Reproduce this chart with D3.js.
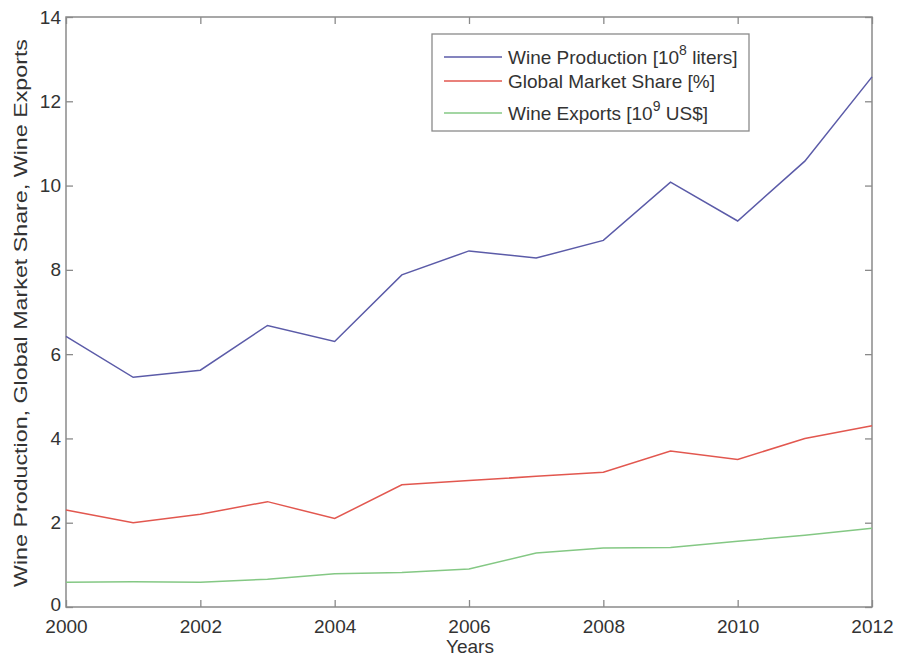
<!DOCTYPE html>
<html>
<head>
<meta charset="utf-8">
<script src="https://cdn.jsdelivr.net/npm/d3@7"></script>
<style>
  body { margin: 0; background: #fff; }
  svg { display: block; font-family: "Liberation Sans", Arial, sans-serif; }
</style>
</head>
<body>
<svg id="chart" width="897" height="656"></svg>
<script>
// Yearly series
const years = [2000, 2001, 2002, 2003, 2004, 2005, 2006, 2007, 2008, 2009, 2010, 2011, 2012];
const wineProduction = [6.42, 5.45, 5.62, 6.68, 6.3, 7.88, 8.45, 8.28, 8.7, 10.08, 9.16, 10.58, 12.58];
const marketShare = [2.3, 2.0, 2.2, 2.5, 2.1, 2.9, 3.0, 3.1, 3.2, 3.7, 3.5, 4.0, 4.3];
const wineExports = [0.59, 0.6, 0.59, 0.66, 0.79, 0.82, 0.9, 1.28, 1.4, 1.41, 1.56, 1.7, 1.87];

const xTicks = [2000, 2002, 2004, 2006, 2008, 2010, 2012];
const yTicks = [0, 2, 4, 6, 8, 10, 12, 14];

const seriesColors = ["#5b5ba8", "#e2574f", "#84c884"];

const svg = d3.select("#chart");
const plotLeft = 66, plotRight = 872, plotTop = 17, plotBottom = 607;
const axisColor = "#8a8a8a";
const textColor = "#333";

const x = d3.scaleLinear().domain([2000, 2012]).range([plotLeft, plotRight]);
const y = d3.scaleLinear().domain([0, 14]).range([plotBottom, plotTop]);

// Frame
svg.append("rect")
  .attr("x", plotLeft).attr("y", plotTop)
  .attr("width", plotRight - plotLeft).attr("height", plotBottom - plotTop)
  .attr("fill", "none").attr("stroke", axisColor).attr("stroke-width", 1.5);

// Axes with inward ticks on all four sides
const tickLen = 7;
const xAxis = svg.append("g").attr("transform", `translate(0,${plotBottom})`)
  .call(d3.axisBottom(x).tickValues(xTicks).tickFormat(d3.format("d")).tickSizeInner(-tickLen).tickSizeOuter(0).tickPadding(13));
const xAxisTop = svg.append("g").attr("transform", `translate(0,${plotTop})`)
  .call(d3.axisTop(x).tickValues(xTicks).tickFormat("").tickSizeInner(-tickLen).tickSizeOuter(0));
const yAxis = svg.append("g").attr("transform", `translate(${plotLeft},0)`)
  .call(d3.axisLeft(y).tickValues(yTicks).tickFormat(d3.format("d")).tickSizeInner(-tickLen).tickSizeOuter(0).tickPadding(5));
const yAxisRight = svg.append("g").attr("transform", `translate(${plotRight},0)`)
  .call(d3.axisRight(y).tickValues(yTicks).tickFormat("").tickSizeInner(-tickLen).tickSizeOuter(0));

[xAxis, xAxisTop, yAxis, yAxisRight].forEach(g => {
  g.select(".domain").remove();
  g.selectAll(".tick line").attr("stroke", axisColor).attr("stroke-width", 1.3);
  g.selectAll(".tick text").attr("fill", textColor).style("font-size", "19px")
    .style("font-family", "'Liberation Sans', Arial, sans-serif");
});
// keep the "0" label clear of the "2000" label beneath it
yAxis.selectAll(".tick text").filter(d => d === 0).attr("dy", "0.2em");

// Series lines
const line = d3.line().x((d, i) => x(years[i])).y(d => y(d));
[wineProduction, marketShare, wineExports].forEach((vals, k) => {
  svg.append("path").datum(vals)
    .attr("d", line)
    .attr("fill", "none")
    .attr("stroke", seriesColors[k])
    .attr("stroke-width", 1.5);
});

// Axis titles
svg.append("text")
  .attr("x", 470).attr("y", 653)
  .attr("text-anchor", "middle").attr("fill", textColor)
  .style("font-size", "19px").text("Years");

svg.append("text")
  .attr("transform", `translate(27,${(plotTop + plotBottom) / 2 + 1}) rotate(-90)`)
  .attr("text-anchor", "middle").attr("fill", textColor)
  .attr("textLength", 548).attr("lengthAdjust", "spacingAndGlyphs")
  .style("font-size", "19px").text("Wine Production, Global Market Share, Wine Exports");

// Legend
const lg = svg.append("g");
lg.append("rect")
  .attr("x", 432).attr("y", 34).attr("width", 317).attr("height", 97)
  .attr("fill", "#fff").attr("stroke", axisColor).attr("stroke-width", 1.3);

const rowY = [57, 81, 113];
const labelParts = [
  ["Wine Production [10", "8", " liters]"],
  ["Global Market Share [%]"],
  ["Wine Exports [10", "9", " US$]"]
];
labelParts.forEach((parts, k) => {
  lg.append("line")
    .attr("x1", 444).attr("x2", 502)
    .attr("y1", rowY[k]).attr("y2", rowY[k])
    .attr("stroke", seriesColors[k]).attr("stroke-width", 1.5);
  const t = lg.append("text")
    .attr("x", 508).attr("y", rowY[k] + 7)
    .attr("fill", textColor).style("font-size", "19px");
  t.append("tspan").text(parts[0]);
  if (parts.length > 1) {
    t.append("tspan").attr("dy", -9).style("font-size", "14px").text(parts[1]);
    t.append("tspan").attr("dy", 9).text(parts[2]);
  }
});
</script>
</body>
</html>
